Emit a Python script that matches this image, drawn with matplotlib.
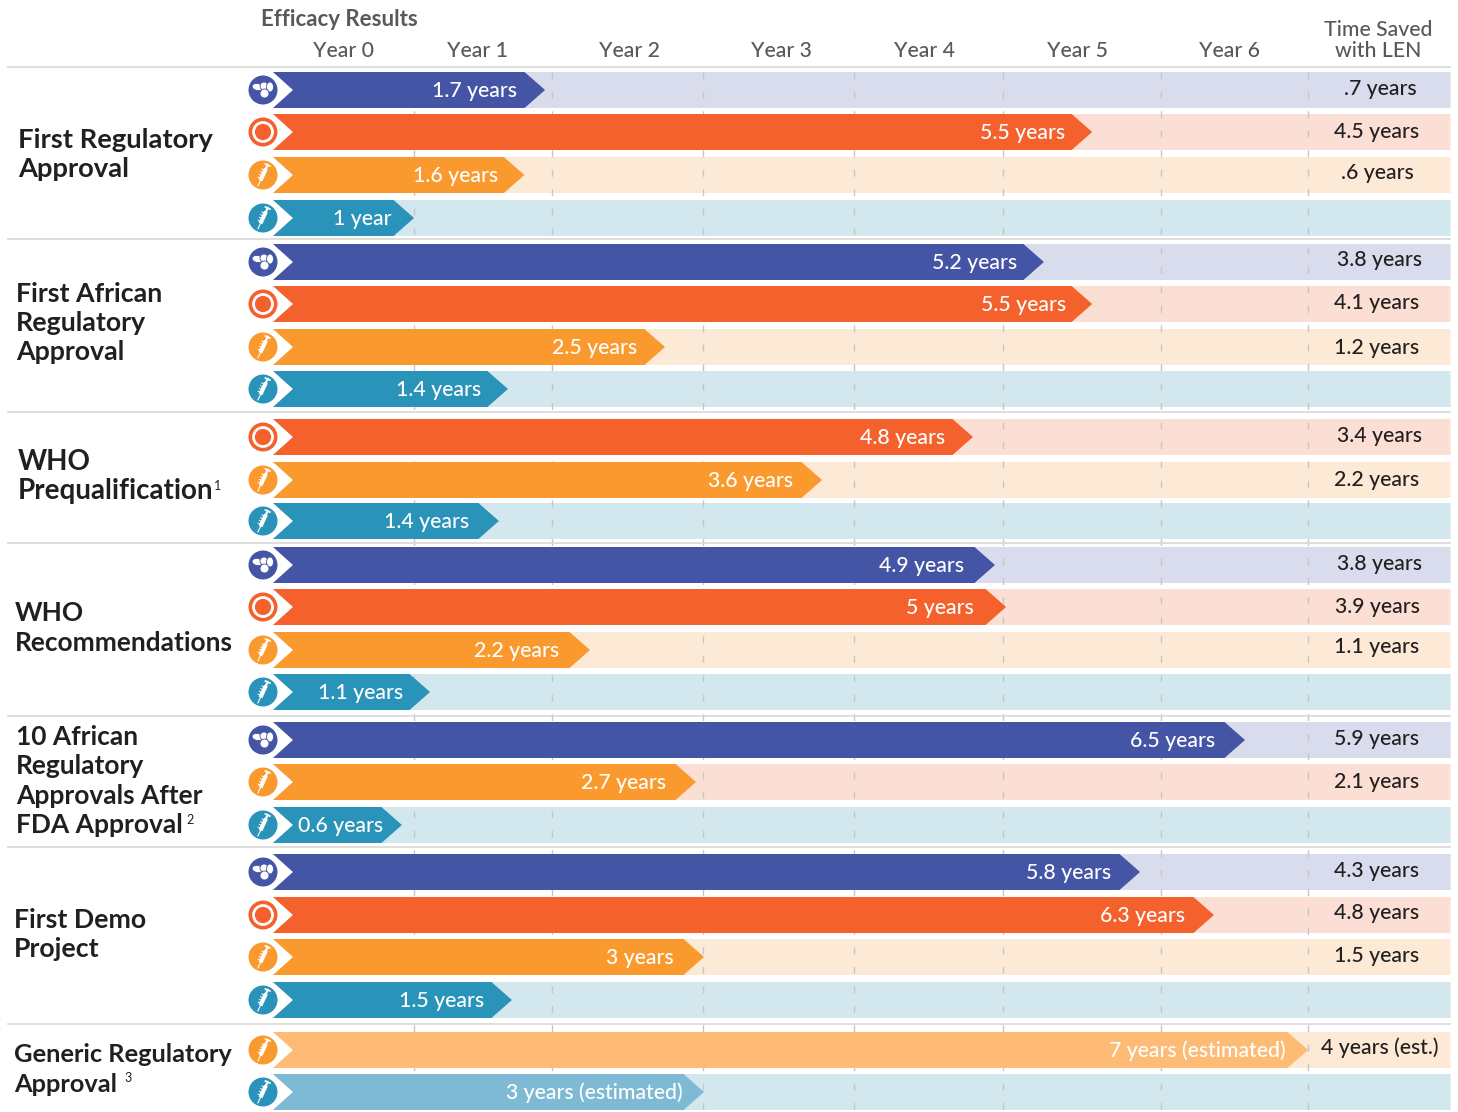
import matplotlib
matplotlib.use('Agg')
import matplotlib.pyplot as plt
from matplotlib.patches import Circle, Ellipse, Polygon, Rectangle
from matplotlib.transforms import Affine2D

plt.rcParams['font.family'] = ['Lato', 'DejaVu Sans']

# data: one entry per bar, top to bottom
kinds = ['pill', 'ring', 'inj', 'len',
         'pill', 'ring', 'inj', 'len',
         'ring', 'inj', 'len',
         'pill', 'ring', 'inj', 'len',
         'pill', 'inj2', 'len',
         'pill', 'ring', 'inj', 'len',
         'inj_est', 'len_est']
bar_labels = ['1.7 years', '5.5 years', '1.6 years', '1 year',
              '5.2 years', '5.5 years', '2.5 years', '1.4 years',
              '4.8 years', '3.6 years', '1.4 years',
              '4.9 years', '5 years', '2.2 years', '1.1 years',
              '6.5 years', '2.7 years', '0.6 years',
              '5.8 years', '6.3 years', '3 years', '1.5 years',
              '7 years (estimated)', '3 years (estimated)']
# where each arrow ends, read against the year axis of the picture
bar_ends = [1.84, 5.54, 1.70, 0.954,
            5.214, 5.54, 2.651, 1.589,
            4.734, 3.713, 1.528,
            4.883, 4.958, 2.144, 1.062,
            6.574, 2.861, 0.872,
            5.864, 6.364, 2.915, 1.616,
            7.0, 2.915]
saved_labels = ['.7 years', '4.5 years', '.6 years', '',
                '3.8 years', '4.1 years', '1.2 years', '',
                '3.4 years', '2.2 years', '',
                '3.8 years', '3.9 years', '1.1 years', '',
                '5.9 years', '2.1 years', '',
                '4.3 years', '4.8 years', '1.5 years', '',
                '4 years (est.)', '']
year_labels = ['Year 0', 'Year 1', 'Year 2', 'Year 3', 'Year 4', 'Year 5', 'Year 6']
year_grid = [0.954, 1.887, 2.908, 3.929, 4.937, 6.006, 7.0]

# layout, figure pixels
W, H = 1458, 1112
X0, X7 = 273, 1308
row_y = [90, 132, 175, 218, 262, 304, 347, 389, 437, 480, 521, 565, 607, 650, 692,
         740, 782, 825, 872, 915, 957, 1000, 1050, 1092]
label_right = [517, 1065, 498, 392, 1017, 1066, 637, 481, 945, 793, 469, 964, 974, 559, 403,
               1215, 666, 383, 1111, 1185, 674, 484, 1286, 683]
saved_x = [1380, 1377, 1377, 0, 1380, 1377, 1377, 0, 1380, 1377, 0, 1380, 1377, 1377, 0,
           1377, 1377, 0, 1377, 1377, 1377, 0, 1380, 0]
saved_y = [89, 132, 173, 0, 260, 303, 348, 0, 436, 480, 0, 564, 607, 647, 0,
           739, 782, 0, 871, 913, 956, 0, 1048, 0]
year_label_x = [344, 478, 630, 781, 925, 1078, 1230]
rule_y = [239, 412, 543, 716, 847, 1024]
group_text = [
    (18, 19.7, [140, 169], ['First Regulatory', 'Approval']),
    (16, 19.3, [294, 323, 352], ['First African', 'Regulatory', 'Approval']),
    (18, 20, [462, 491], ['WHO', 'Prequalification']),
    (15, 18.9, [613, 643], ['WHO', 'Recommendations']),
    (16, 19, [737, 766, 796, 825], ['10 African', 'Regulatory', 'Approvals After', 'FDA Approval']),
    (14, 19.2, [920, 949], ['First Demo', 'Project']),
    (14, 18.3, [1055, 1084], ['Generic Regulatory', 'Approval']),
]
notes = [(214, 486, '1'), (186, 820, '2'), (124, 1078, '3')]

colors = {'pill': '#4555a5', 'ring': '#f4612c', 'inj': '#fa9a2e', 'inj2': '#fa9a2e',
          'len': '#2a93b9', 'inj_est': '#fdbb75', 'len_est': '#7fbad4'}
bands = {'pill': '#d9dcec', 'ring': '#fbdfd4', 'inj': '#fdead6', 'inj2': '#fbdfd4',
         'len': '#d3e7ef', 'inj_est': '#fdead6', 'len_est': '#d3e7ef'}
icon_colors = {'inj_est': '#fa9a2e', 'len_est': '#2a93b9'}
DARK = '#231f20'
GREY = '#58595b'

fig = plt.figure(figsize=(W / 100, H / 100), dpi=100)
k = (X7 - X0) / 7

# years axes for the bars, pixel axes for icons and side text
ax = fig.add_axes([0, 0, 1, 1])
ax.set_xlim(-X0 / k, (W - X0) / k)
ax.set_ylim(H, 0)
ax.axis('off')
px = fig.add_axes([0, 0, 1, 1])
px.set_xlim(0, W)
px.set_ylim(H, 0)
px.axis('off')
px.patch.set_alpha(0)

HALF = 18
HEAD = 20.5 / k
NOTCH = 20 / k
RIGHT = (1450.5 - X0) / k

for x in year_grid:
    ax.plot([x, x], [72, H], color='#c6c6c6', lw=1, ls=(0, (5, 9)), zorder=2)

for y, kind, end in zip(row_y, kinds, bar_ends):
    ax.add_patch(Polygon([(0, y - HALF), (RIGHT, y - HALF), (RIGHT, y + HALF), (0, y + HALF), (NOTCH, y)],
                         fc=bands[kind], ec='none', zorder=1))
    ax.add_patch(Polygon([(0, y - HALF), (end - HEAD, y - HALF), (end, y), (end - HEAD, y + HALF),
                          (0, y + HALF), (NOTCH, y)], fc=colors[kind], ec='none', zorder=3))


def draw_icon(y, kind):
    c = icon_colors.get(kind, colors[kind])
    px.add_patch(Circle((263, y), 14.5, fc=c, ec='none', zorder=4))
    if kind == 'pill':
        for cx, cy, w, h, a in [(257.5, y - 3, 11, 7, 10), (264, y - 4, 8, 8, 0), (270, y - 3, 7, 10, 0), (264.5, y + 3.5, 9, 9, 0)]:
            px.add_patch(Ellipse((cx, cy), w, h, angle=a, fc='white', ec=c, lw=0.6, zorder=5))
    elif kind == 'ring':
        px.add_patch(Circle((263, y), 9.5, fc='none', ec='white', lw=2, zorder=5))
    else:
        rot = Affine2D().rotate_deg_around(263, y, 25) + px.transData
        px.add_patch(Rectangle((261, y - 7), 4, 13, fc='white', ec='none', zorder=5, transform=rot))
        px.plot([263, 263], [y + 6, y + 12], color='white', lw=0.8, zorder=5, transform=rot)
        px.plot([263, 263], [y - 11, y - 7], color='white', lw=1.6, zorder=5, transform=rot)
        px.plot([260.5, 265.5], [y - 11, y - 11], color='white', lw=1.2, zorder=5, transform=rot)
        for d in (-5, -2, 1, 4):
            px.plot([259.5, 261], [y + d, y + d], color='white', lw=0.7, zorder=5, transform=rot)


for y, kind, lab, lx, s, sx, sy in zip(row_y, kinds, bar_labels, label_right, saved_labels, saved_x, saved_y):
    draw_icon(y, kind)
    px.text(lx, y + 1, lab, color='white', fontsize=15.3, fontweight='medium',
            ha='right', va='center', zorder=6)
    if s:
        px.text(sx, sy, s, color=DARK, fontsize=15.3, fontweight='medium', ha='center', va='center', zorder=6)

# header
px.text(261, 19, 'Efficacy Results', color=GREY, fontsize=16, fontweight='bold', ha='left', va='center')
for x, lab in zip(year_label_x, year_labels):
    px.text(x, 51, lab, color=GREY, fontsize=15.3, fontweight='medium', ha='center', va='center')
px.text(1378, 30, 'Time Saved', color=GREY, fontsize=15.3, fontweight='medium', ha='center', va='center')
px.text(1378, 51, 'with LEN', color=GREY, fontsize=15.3, fontweight='medium', ha='center', va='center')

# separators
px.plot([8, 1450], [67, 67], color='#e0e0e0', lw=1.5, zorder=1)
for y in rule_y:
    px.plot([8, 1450], [y, y], color='#d8d8d8', lw=1.2, zorder=1)

for x, size, ys, lines in group_text:
    for y, line in zip(ys, lines):
        px.text(x, y, line, color=DARK, fontsize=size, fontweight='bold', ha='left', va='center')
for x, y, n in notes:
    px.text(x, y, n, color=DARK, fontsize=9, ha='left', va='center')

fig.savefig('out.png', dpi=100, facecolor='white')
